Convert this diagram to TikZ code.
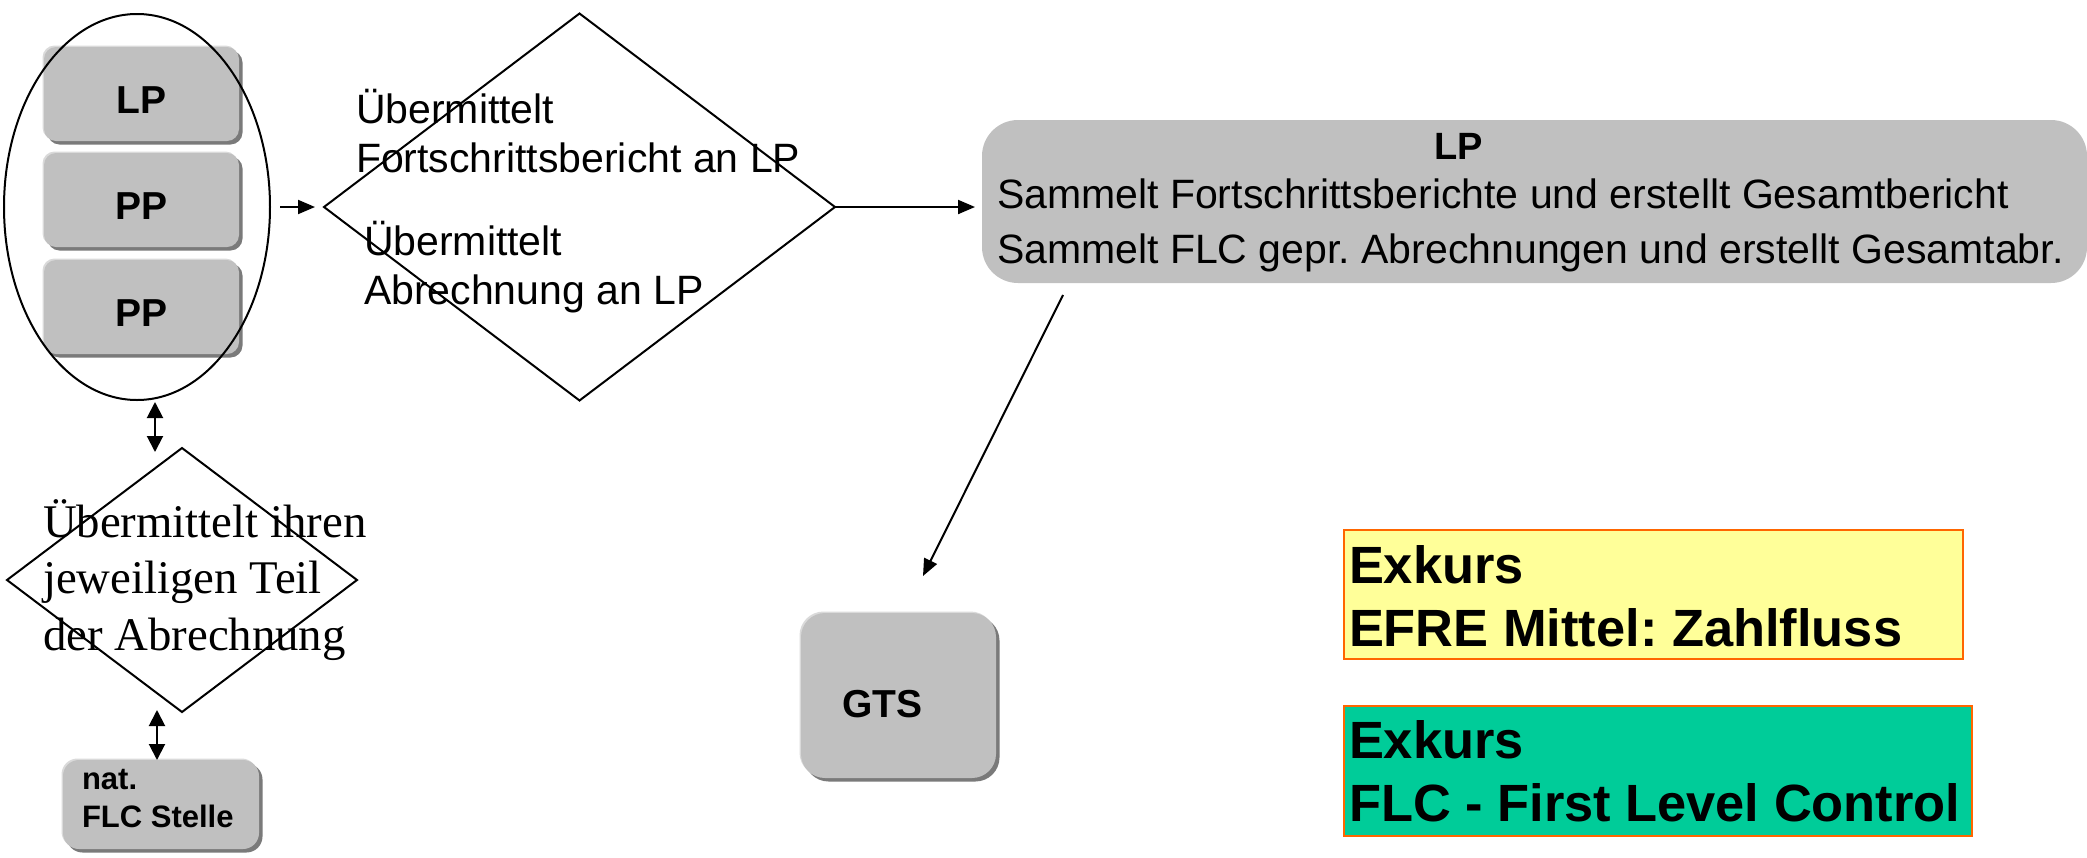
\documentclass[tikz,border=0pt]{standalone}
\usepackage{fontspec}
\setmainfont{Liberation Sans}
\newfontfamily\timesf{Liberation Serif}
\usetikzlibrary{shapes.geometric,arrows.meta,shadows,calc}
\definecolor{boxgray}{HTML}{C0C0C0}
\definecolor{shadowgray}{HTML}{7A7A7A}
\definecolor{boxlight}{HTML}{DADADA}
\definecolor{exyellow}{HTML}{FFFF99}
\definecolor{exgreen}{HTML}{00CC99}
\definecolor{exorange}{HTML}{FF6600}
\newcommand\mylines[1]{\begin{tabular}[t]{@{}l@{}}#1\end{tabular}}
\frenchspacing
\begin{document}
\begin{tikzpicture}[x=0.5pt,y=-0.5pt,
  every node/.style={inner sep=0pt, outer sep=0pt},
  graybox/.style={fill=boxgray, rounded corners=6pt,
    general shadow={shadow xshift=-0.75pt, shadow yshift=0.75pt, fill=boxlight},
    drop shadow={shadow xshift=1.75pt, shadow yshift=-1.75pt, fill=shadowgray, opacity=1}},
  smallbox/.style={graybox, minimum width=97.5pt, minimum height=47pt,
    font=\fontsize{19.5}{23}\selectfont\bfseries, text height=19.5pt, text depth=0pt},
  outline/.style={draw=black, line width=1pt},
  dtext/.style={font=\fontsize{20.5}{24.5}\selectfont},
  bodytext/.style={font=\fontsize{20.5}{27.5}\selectfont},
  serifdtext/.style={font=\timesf\fontsize{23.4}{28.25}\selectfont},
  exbox/.style={draw=exorange, line width=1pt},
  extext/.style={font=\fontsize{26.2}{31.75}\selectfont\bfseries, anchor=base west},
  arr/.style={line width=1pt, -{Triangle[length=8.5pt,width=7pt]}},
  darr/.style={line width=1pt, {Triangle[length=8pt,width=8pt]}-{Triangle[length=8pt,width=8pt]}}
]
\useasboundingbox (0,0) rectangle (2087,857);

% left group
\node[smallbox] (lp1) at (141.5,94) {LP};
\node[smallbox] (pp1) at (141.5,200) {PP};
\node[smallbox] (pp2) at (141.5,307) {PP};
\node[outline, ellipse, minimum width=133pt, minimum height=193pt] (ell) at (137,207) {};

% first diamond
\node[outline, diamond, minimum width=255.5pt, minimum height=193.5pt] (d1) at (579.5,207) {};
\node[dtext, anchor=base west] (t1) at (356,123) {\mylines{Übermittelt\\Fortschrittsbericht an LP}};
\node[dtext, anchor=base west] (t2) at (364,255) {\mylines{Übermittelt\\Abrechnung an LP}};

% big LP box
\node[fill=boxgray, rounded corners=18pt, minimum width=552.5pt, minimum height=81.5pt] (lpbox) at (1534.5,201.5) {};
\node[font=\fontsize{19}{23}\selectfont\bfseries, anchor=base] (lpt) at (1459,159) {LP};
\node[bodytext, anchor=base west] (lpl) at (997,208) {\mylines{Sammelt Fortschrittsberichte und erstellt Gesamtbericht\\Sammelt FLC gepr. Abrechnungen und erstellt Gesamtabr.}};

% GTS
\node[graybox, rounded corners=12pt, minimum width=97.5pt, minimum height=82.5pt,
  text width=56.5pt, align=left, font=\fontsize{19.5}{23}\selectfont\bfseries,
  text height=21.5pt, text depth=0pt] (gts) at (898.5,695.5) {GTS};

% second diamond
\node[outline, diamond, minimum width=175pt, minimum height=132pt] (d2) at (182,580) {};
\node[serifdtext, anchor=base west] (t3) at (43,537) {\mylines{Übermittelt ihren\\jeweiligen Teil\\der Abrechnung}};

% nat. FLC Stelle
\node[graybox, rounded corners=8pt, minimum width=98pt, minimum height=44.5pt] (nat) at (161,804.5) {};
\node[font=\fontsize{15.5}{19}\selectfont\bfseries, anchor=base west] (natt) at (82,789) {\mylines{nat.\\FLC Stelle}};

% Exkurs boxes
\node[exbox, fill=exyellow, minimum width=309.5pt, minimum height=64.5pt] (ex1) at (1653.5,594.5) {};
\node[extext] (ex1t) at (1349,583) {\mylines{Exkurs\\EFRE Mittel: Zahlfluss}};
\node[exbox, fill=exgreen, minimum width=314pt, minimum height=65pt] (ex2) at (1658,771) {};
\node[extext] (ex2t) at (1349,758) {\mylines{Exkurs\\FLC - First Level Control}};

% connectors
\draw[arr] ($(ell.east)+(10,0)$) -- ($(d1.west)+(-9,0)$);
\draw[arr] (d1.east) -- ($(d1.east -| lpbox.west)+(-7,0)$);
\draw[arr] ($(lpbox.south west)+(81,12)$) -- ($(gts.north)+(24.5,-37)$);
\draw[darr] ($(ell.south)+(18,2)$) -- ($(d2.north)+(-27,4)$);
\draw[darr] ($(d2.south)+(-25,-2)$) -- ($(nat.north)+(-4,0)$);
\end{tikzpicture}
\end{document}
